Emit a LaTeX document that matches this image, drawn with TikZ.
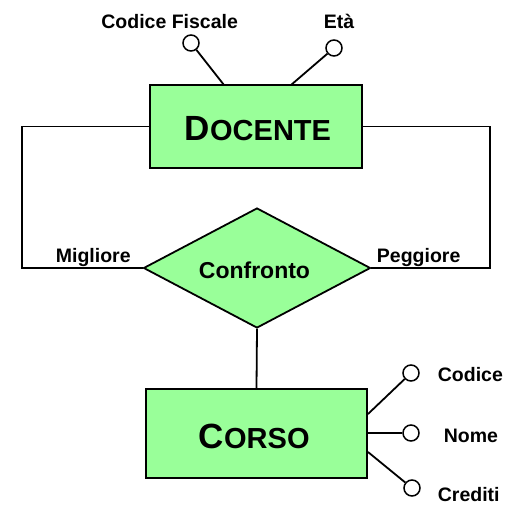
\documentclass[tikz,border=0pt]{standalone}
\usepackage{fontspec}
\setmainfont{Liberation Sans}
\usetikzlibrary{shapes.geometric}
\definecolor{erfill}{HTML}{99FF99}
\begin{document}
\begin{tikzpicture}[x=1pt,y=-1pt,
  line width=1.8pt,
  entbox/.style={draw, fill=erfill, rectangle, inner sep=0pt},
  relbox/.style={draw, fill=erfill, diamond, inner sep=0pt, aspect=1.89},
  attr/.style={draw, fill=white, circle, minimum size=16pt, inner sep=0pt, line width=1.5pt},
  lbl/.style={anchor=base west, inner sep=0pt, font=\fontsize{19.5}{20}\selectfont\bfseries},
  link/.style={line width=1.8pt}]
\useasboundingbox (0,0) rectangle (506,504);
% entities and relationship
\node[entbox, minimum width=212pt, minimum height=83pt] (docente) at (256,126.5) {};
\node[entbox, minimum width=221pt, minimum height=89pt] (corso) at (256.5,433.5) {};
\node[relbox, minimum width=227pt, minimum height=120pt] (conf) at (257,268) {};
% titles
\node[anchor=base west, inner sep=0pt, font=\bfseries] (tdoc) at (184,140)
  {\fontsize{35}{35}\selectfont D\fontsize{29}{29}\selectfont OCENTE};
\node[anchor=base west, inner sep=0pt, font=\bfseries] (tcor) at (198,448)
  {\fontsize{35}{35}\selectfont C\fontsize{29}{29}\selectfont ORSO};
\node[anchor=base west, inner sep=0pt, font=\fontsize{23}{24}\selectfont\bfseries] (tconf) at (198,278) {Confronto};
% attribute circles
\node[attr] (acf) at (191,43) {};
\node[attr] (aeta) at (334,48) {};
\node[attr] (acod) at (411,373) {};
\node[attr] (anome) at (411,433) {};
\node[attr] (acred) at (412,488) {};
% labels
\node[lbl] (lcf) at (100.5,28.3) {Codice Fiscale};
\node[lbl] (leta) at (323,28.3) {Età};
\node[lbl] (lmig) at (55,262) {Migliore};
\node[lbl] (lpeg) at (376,262) {Peggiore};
\node[lbl] (lcod) at (437,381) {Codice};
\node[lbl] (lnome) at (443,442) {Nome};
\node[lbl] (lcred) at (437,501) {Crediti};
% corner coordinates
\coordinate (cl) at (22,268);
\coordinate (cr) at (490,268);
\coordinate (pcf) at (224,85);
\coordinate (peta) at (291,85);
\coordinate (pcod) at (368,414);
\coordinate (pnome) at (367,433);
\coordinate (pcred) at (368,452);
% connectors
\draw[link] (docente.west) -| (cl) -- (conf.west);
\draw[link] (docente.east) -| (cr) -- (conf.east);
\draw[link] (conf.south) -- (corso.north);
\draw[link] (pcf) -- (acf);
\draw[link] (peta) -- (aeta);
\draw[link] (pcod) -- (acod);
\draw[link] (pnome) -- (anome);
\draw[link] (pcred) -- (acred);
\end{tikzpicture}
\end{document}
